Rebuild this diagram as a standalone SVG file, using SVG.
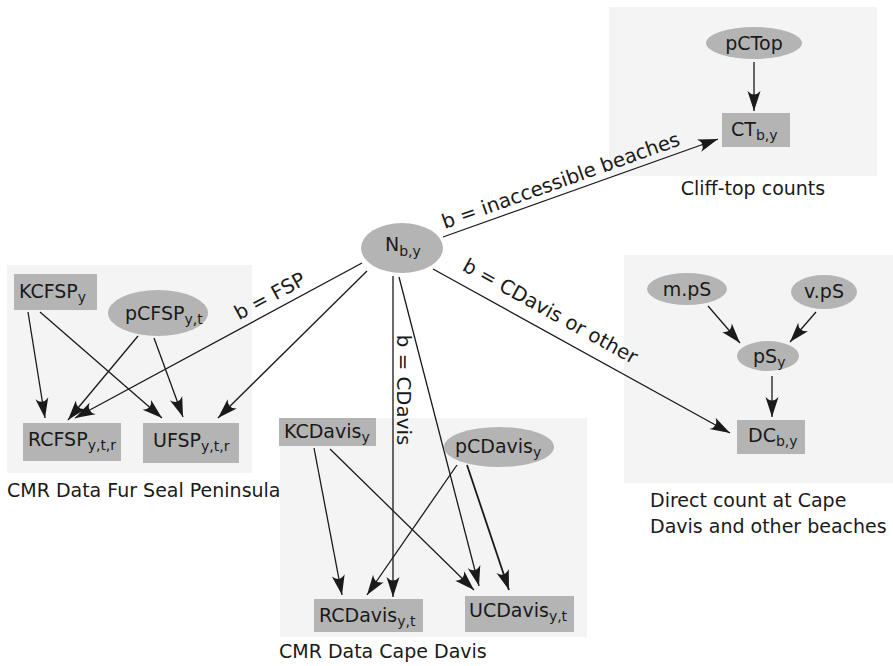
<svg xmlns="http://www.w3.org/2000/svg" width="893" height="666" viewBox="0 0 893 666">
<style>
.panel{fill:#f4f4f4}
.n{fill:#b4b4b4}
text{font-family:"DejaVu Sans","Liberation Sans",sans-serif;fill:#1a1a1a}
.t{font-size:19px}
.s{font-size:14px}
.cap{font-size:19px}
.el{font-size:19.8px}
.e{stroke:#1a1a1a;stroke-width:1.3;fill:none;marker-end:url(#ah)}
</style>
<defs>
<marker id="ah" markerUnits="userSpaceOnUse" markerWidth="22" markerHeight="14" refX="20" refY="6.5" orient="auto" overflow="visible">
<path d="M20,6.5 L0,0 Q7,6.5 0,13 Z" fill="#1a1a1a"/>
</marker>
</defs>
<rect width="893" height="666" fill="#ffffff"/>
<g id="panels">
<rect class="panel" x="609" y="7" width="268" height="169"/>
<rect class="panel" x="7" y="265" width="245" height="208"/>
<rect class="panel" x="280" y="418" width="307" height="219"/>
<rect class="panel" x="624" y="255" width="269" height="228"/>
</g>
<g id="captions">
<text class="cap" x="753" y="195" text-anchor="middle">Cliff-top counts</text>
<text class="cap" x="7" y="497">CMR Data Fur Seal Peninsula</text>
<text class="cap" x="279" y="658">CMR Data Cape Davis</text>
<text class="cap" x="650" y="507">Direct count at Cape</text>
<text class="cap" x="650" y="533">Davis and other beaches</text>
</g>
<g id="connectors">
<line class="e" x1="754" y1="62" x2="754" y2="111"/>
<line class="e" x1="443" y1="237" x2="718" y2="139"/>
<line class="e" x1="433" y1="269" x2="730" y2="433"/>
<line class="e" x1="393" y1="276" x2="393" y2="597"/>
<line class="e" x1="399" y1="277" x2="479" y2="586"/>
<line class="e" x1="362" y1="263" x2="75" y2="418"/>
<line class="e" x1="367" y1="271" x2="218" y2="418"/>
<line class="e" x1="28" y1="312" x2="45" y2="418"/>
<line class="e" x1="40" y1="312" x2="162" y2="418"/>
<line class="e" x1="138" y1="336" x2="68" y2="420"/>
<line class="e" x1="154" y1="338" x2="183" y2="417"/>
<line class="e" x1="314" y1="448" x2="342" y2="595"/>
<line class="e" x1="330" y1="449" x2="474" y2="590"/>
<line class="e" x1="457" y1="465" x2="367" y2="595"/>
<line class="e" x1="467" y1="465" x2="509" y2="590" style="stroke-width:1.8"/>
<line class="e" x1="708" y1="306" x2="740" y2="343"/>
<line class="e" x1="816" y1="312" x2="790" y2="342"/>
<line class="e" x1="772" y1="376" x2="772" y2="417"/>
<text class="el" transform="translate(563,187) rotate(-19.6)" text-anchor="middle">b = inaccessible beaches</text>
<text class="el" transform="translate(547,317) rotate(28.9)" text-anchor="middle">b = CDavis or other</text>
<text class="el" transform="translate(397,390) rotate(90)" text-anchor="middle">b = CDavis</text>
<text class="el" transform="translate(273,302) rotate(-28.4)" text-anchor="middle">b = FSP</text>
</g>
<g id="N">
<ellipse class="n" cx="402" cy="248" rx="41" ry="25"/>
<text class="t" x="385" y="251">N<tspan class="s" dy="5">b,y</tspan></text>
</g>
<g id="pCTop">
<ellipse class="n" cx="754" cy="43" rx="48" ry="16"/>
<text class="t" x="754" y="50" text-anchor="middle">pCTop</text>
</g>
<g id="CT">
<rect class="n" x="722" y="113" width="68" height="34"/>
<text class="t" x="731" y="136">CT<tspan class="s" dy="4">b,y</tspan></text>
</g>
<g id="KCFSP">
<rect class="n" x="14" y="274" width="83" height="36"/>
<text class="t" x="19" y="298">KCFSP<tspan class="s" dy="4">y</tspan></text>
</g>
<g id="pCFSP">
<ellipse class="n" cx="158" cy="313" rx="50" ry="23"/>
<text class="t" x="125" y="320">pCFSP<tspan class="s" dy="4">y,t</tspan></text>
</g>
<g id="RCFSP">
<rect class="n" x="23" y="423" width="98" height="38"/>
<text class="t" x="28" y="446">RCFSP<tspan class="s" dy="4">y,t,r</tspan></text>
</g>
<g id="UFSP">
<rect class="n" x="143" y="423" width="96" height="40"/>
<text class="t" x="153" y="447">UFSP<tspan class="s" dy="4">y,t,r</tspan></text>
</g>
<g id="KCDavis">
<rect class="n" x="279" y="418" width="97" height="28"/>
<text class="t" x="284" y="438">KCDavis<tspan class="s" dy="4">y</tspan></text>
</g>
<g id="pCDavis">
<ellipse class="n" cx="499" cy="447" rx="55" ry="20"/>
<text class="t" x="455" y="453">pCDavis<tspan class="s" dy="4">y</tspan></text>
</g>
<g id="RCDavis">
<rect class="n" x="314" y="599" width="109" height="33"/>
<text class="t" x="319" y="622">RCDavis<tspan class="s" dy="4">y,t</tspan></text>
</g>
<g id="UCDavis">
<rect class="n" x="465" y="596" width="109" height="36"/>
<text class="t" x="469" y="617">UCDavis<tspan class="s" dy="4">y,t</tspan></text>
</g>
<g id="mpS">
<ellipse class="n" cx="687" cy="289" rx="40" ry="16"/>
<text class="t" x="687" y="296" text-anchor="middle">m.pS</text>
</g>
<g id="vpS">
<ellipse class="n" cx="824" cy="292" rx="33" ry="17"/>
<text class="t" x="824" y="298" text-anchor="middle">v.pS</text>
</g>
<g id="pS">
<ellipse class="n" cx="768" cy="356" rx="31" ry="15"/>
<text class="t" x="753" y="363">pS<tspan class="s" dy="4">y</tspan></text>
</g>
<g id="DC">
<rect class="n" x="737" y="420" width="68" height="34"/>
<text class="t" x="748" y="442">DC<tspan class="s" dy="4">b,y</tspan></text>
</g>
</svg>
